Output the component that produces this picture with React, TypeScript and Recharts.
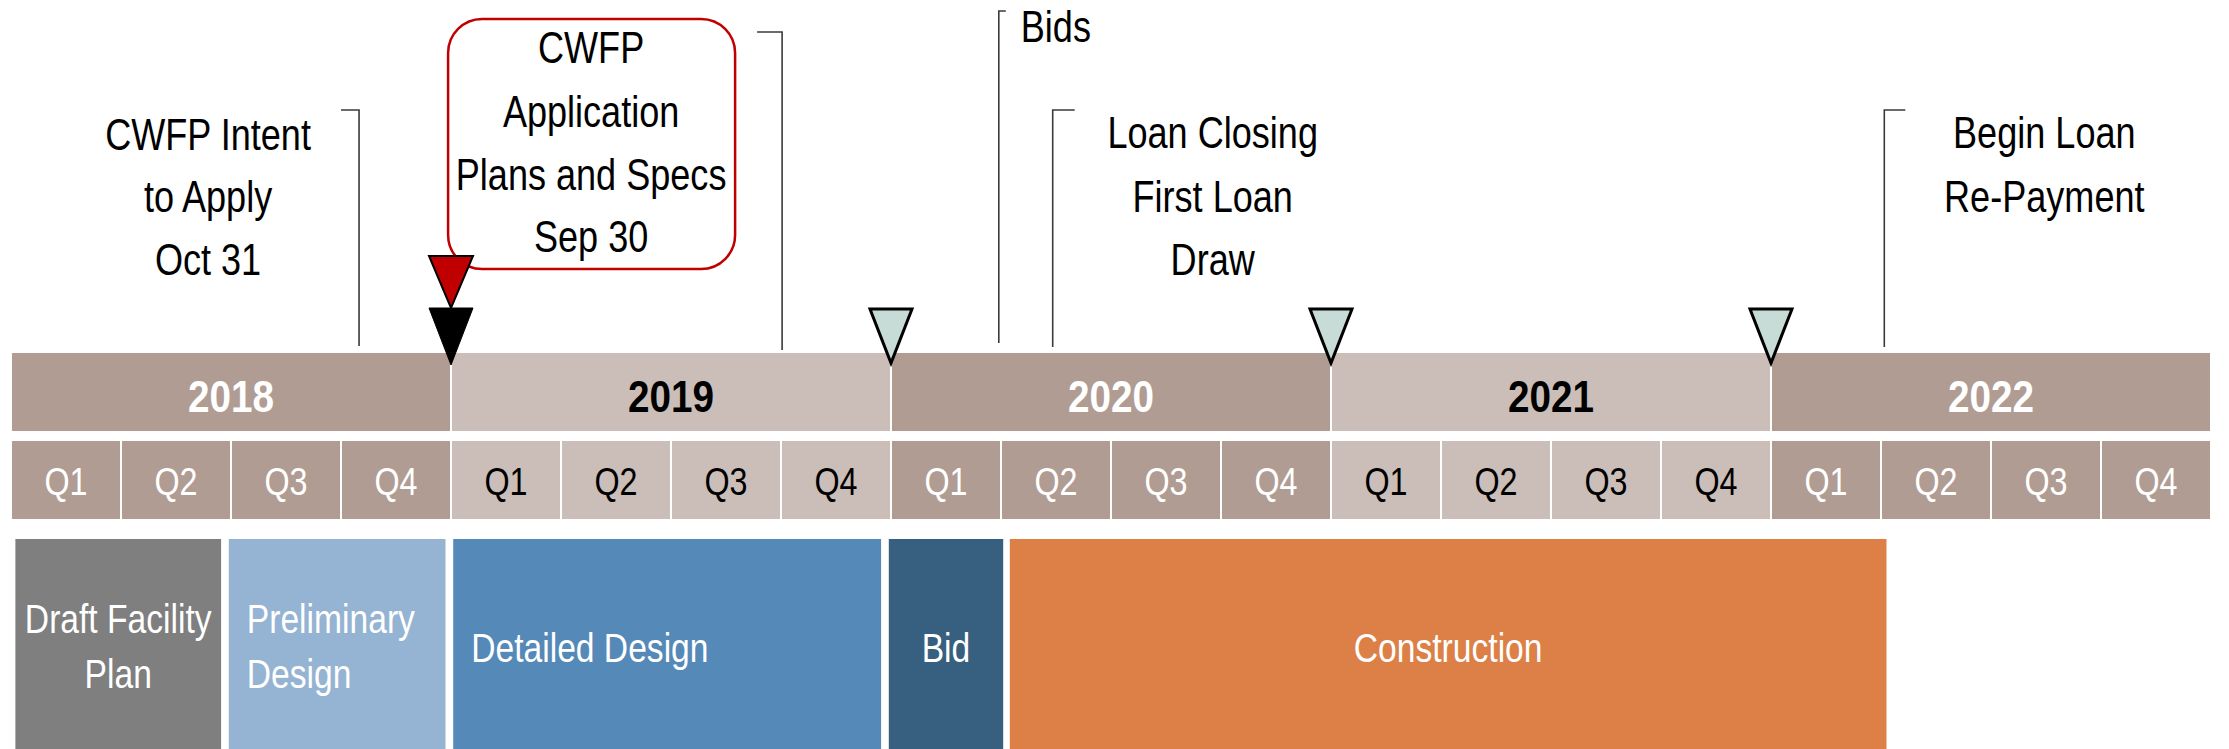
import { ComposedChart, ReferenceArea, ReferenceLine, Scatter, XAxis, YAxis } from "recharts";

// time is measured in quarters from Jan 2018 (0 .. 20)
const years = ["2018", "2019", "2020", "2021", "2022"];
const quarters = ["Q1", "Q2", "Q3", "Q4"];

const phaseNames = [["Draft Facility", "Plan"], ["Preliminary", "Design"], ["Detailed Design"], ["Bid"], ["Construction"]];
const phaseStart = [0.04, 1.98, 4.02, 7.98, 9.08];
const phaseEnd = [1.91, 3.95, 7.91, 9.02, 17.05];

const milestoneDates = [4, 4, 8, 12, 16];
const milestoneKinds = ["black", "red", "pale", "pale", "pale"];

const calloutText = [
  ["CWFP Intent", "to Apply", "Oct 31"],
  ["CWFP", "Application", "Plans and Specs", "Sep 30"],
  ["Bids"],
  ["Loan Closing", "First Loan", "Draw"],
  ["Begin Loan", "Re-Payment"],
];
const calloutDates = [3.164, 7.01, 8.98, 9.47, 17.03];

// layout
const W = 2229;
const H = 749;
const FONT = '"Liberation Sans", Arial, sans-serif';
const DARK = "#B09C93";
const LIGHT = "#CBBEB9";
const YEAR_BAND = [352, 432];
const QTR_BAND = [440, 520];
const PHASE_BAND = [539, 749];
const phaseColors = ["#7F7F7F", "#95B3D2", "#5589B8", "#375F80", "#DD8047"];
const phaseLayout = [
  { align: "middle", dx: 0, lines: [633, 688] },
  { align: "start", dx: 18, lines: [633, 688] },
  { align: "start", dx: 18, lines: [662] },
  { align: "middle", dx: 0, lines: [662] },
  { align: "middle", dx: 0, lines: [662] },
];
const markerStyle: Record<string, any> = {
  black: { tip: 365, h: 57, hw: 22, fill: "#000000", sw: 1 },
  red: { tip: 308, h: 52, hw: 22, fill: "#C00000", sw: 2 },
  pale: { tip: 363, h: 54, hw: 21, fill: "#C8DCD7", sw: 3 },
};
const calloutLayout = [
  { top: 110, bottom: 346, tick: -18, dx: -151, anchor: "middle", lines: [150, 212, 275] },
  { top: 32, bottom: 350, tick: -25, dx: -191, anchor: "middle", lines: [63, 127, 190, 252], box: true },
  { top: 11, bottom: 343, tick: 7, dx: 22, anchor: "start", lines: [42] },
  { top: 110, bottom: 347, tick: 22, dx: 160, anchor: "middle", lines: [148, 212, 275] },
  { top: 110, bottom: 347, tick: 21, dx: 160, anchor: "middle", lines: [148, 212] },
];

const milestones = milestoneDates.map((q, i) => ({ q, y: markerStyle[milestoneKinds[i]].tip, kind: milestoneKinds[i] }));

// narrow text: regular font squeezed horizontally
function Label({ x, y, anchor = "middle", size, bold = false, fill = "#000", sx = 0.82, children }: any) {
  return (
    <text
      transform={`translate(${x} ${y}) scale(${sx} 1)`}
      x={0}
      y={0}
      textAnchor={anchor}
      fontFamily={FONT}
      fontSize={size}
      fontWeight={bold ? 700 : 400}
      fill={fill}
    >
      {children}
    </text>
  );
}

function Triangle(props: any) {
  const { cx, cy, payload } = props;
  const s = markerStyle[payload.kind];
  return (
    <path
      d={`M${cx - s.hw},${cy - s.h} L${cx + s.hw},${cy - s.h} L${cx},${cy} Z`}
      fill={s.fill}
      stroke="#000"
      strokeWidth={s.sw}
    />
  );
}

function Cell(p: any, fill: string, text: string, color: string, size: number, bold: boolean, baseline: number, sx: number) {
  return (
    <g>
      <rect x={p.x} y={p.y} width={p.width} height={p.height} fill={fill} stroke="#fff" strokeWidth={2} />
      <Label x={p.x + p.width / 2} y={baseline} size={size} bold={bold} fill={color} sx={sx}>
        {text}
      </Label>
    </g>
  );
}

function Callout(p: any, i: number) {
  const L = calloutLayout[i];
  const x = p.x1;
  const top = Math.min(p.y1, p.y2);
  const bottom = Math.max(p.y1, p.y2);
  return (
    <g>
      {L.box && (
        <rect x={x - 334} y={19} width={287} height={250} rx={34} ry={34} fill="#fff" stroke="#C00000" strokeWidth={2.5} />
      )}
      <path d={`M${x + L.tick},${top} H${x} V${bottom}`} fill="none" stroke="#3a3a3a" strokeWidth={1.6} />
      {calloutText[i].map((t, k) => (
        <Label key={k} x={x + L.dx} y={L.lines[k]} anchor={L.anchor} size={44}>
          {t}
        </Label>
      ))}
    </g>
  );
}

export default function App() {
  return (
    <div style={{ position: "absolute", left: 0, top: 0, width: W, height: H, background: "#fff" }}>
      <ComposedChart width={W} height={H} margin={{ top: 0, right: 18, bottom: 0, left: 11 }}>
        <XAxis type="number" dataKey="q" domain={[0, 20]} allowDataOverflow hide />
        <YAxis type="number" dataKey="y" domain={[0, H]} allowDataOverflow reversed hide />

        {years.map((yr, i) => {
          const dark = i % 2 === 0;
          return (
            <ReferenceArea
              key={yr}
              x1={i * 4}
              x2={i * 4 + 4}
              y1={YEAR_BAND[0]}
              y2={YEAR_BAND[1]}
              ifOverflow="visible"
              shape={(p: any) => Cell(p, dark ? DARK : LIGHT, yr, dark ? "#fff" : "#000", 45, true, 412, 0.86)}
            />
          );
        })}

        {years.map((yr, i) =>
          quarters.map((qt, j) => {
            const dark = i % 2 === 0;
            return (
              <ReferenceArea
                key={yr + qt}
                x1={i * 4 + j}
                x2={i * 4 + j + 1}
                y1={QTR_BAND[0]}
                y2={QTR_BAND[1]}
                ifOverflow="visible"
                shape={(p: any) => Cell(p, dark ? DARK : LIGHT, qt, dark ? "#fff" : "#000", 38, false, 495, 0.85)}
              />
            );
          })
        )}

        {phaseNames.map((name, i) => (
          <ReferenceArea
            key={name.join(" ")}
            x1={phaseStart[i]}
            x2={phaseEnd[i]}
            y1={PHASE_BAND[0]}
            y2={PHASE_BAND[1]}
            ifOverflow="visible"
            shape={(p: any) => {
              const L = phaseLayout[i];
              const tx = L.align === "middle" ? p.x + p.width / 2 : p.x + L.dx;
              return (
                <g>
                  <rect x={p.x} y={p.y} width={p.width} height={p.height} fill={phaseColors[i]} />
                  {name.map((t, k) => (
                    <Label key={k} x={tx} y={L.lines[k]} anchor={L.align} size={41} fill="#fff">
                      {t}
                    </Label>
                  ))}
                </g>
              );
            }}
          />
        ))}

        {calloutDates.map((q, i) => (
          <ReferenceLine
            key={i}
            segment={[
              { x: q, y: calloutLayout[i].top },
              { x: q, y: calloutLayout[i].bottom },
            ]}
            ifOverflow="visible"
            shape={(p: any) => Callout(p, i)}
          />
        ))}

        <Scatter data={milestones} isAnimationActive={false} shape={Triangle} />
      </ComposedChart>
    </div>
  );
}
